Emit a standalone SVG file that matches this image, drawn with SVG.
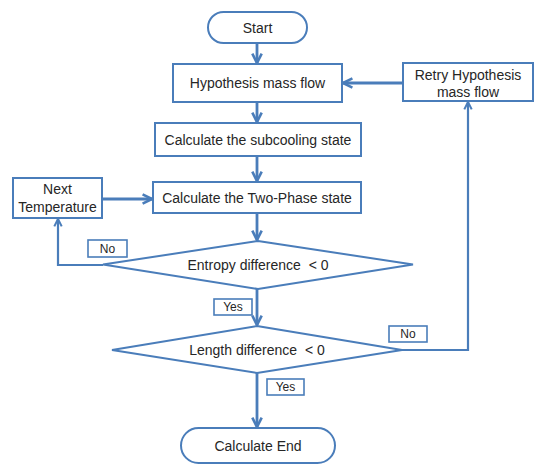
<svg xmlns="http://www.w3.org/2000/svg" width="537" height="464" viewBox="0 0 537 464">
<defs>
<style>
.box{fill:#fff;stroke:#4a7dba;stroke-width:2}
.lbl{fill:#fff;stroke:#4a7dba;stroke-width:1.6}
.t{font-family:"Liberation Sans",Arial,sans-serif;font-size:14px;fill:#262626;text-anchor:middle;dominant-baseline:central}
.s{font-family:"Liberation Sans",Arial,sans-serif;font-size:12px;fill:#262626;text-anchor:middle;dominant-baseline:central}
.c{fill:none;stroke:#4a7dba;stroke-width:2.8}
.c2{fill:none;stroke:#4a7dba;stroke-width:2.2}
</style>
<marker id="ar" viewBox="0 0 10 10" refX="9" refY="5" markerWidth="4.2" markerHeight="4.2" orient="auto" markerUnits="strokeWidth">
<path d="M1,1 L9,5 L1,9" fill="none" stroke="#4a7dba" stroke-width="2.2" stroke-linejoin="miter"/>
</marker>
</defs>
<rect width="537" height="464" fill="#fff"/>
<g id="connectors">
<path class="c" d="M257,43 V63" marker-end="url(#ar)"/>
<path class="c" d="M257,102 V122" marker-end="url(#ar)"/>
<path class="c" d="M257,156 V181" marker-end="url(#ar)"/>
<path class="c" d="M257,213 V240" marker-end="url(#ar)"/>
<path class="c" d="M257,289 V325" marker-end="url(#ar)"/>
<path class="c" d="M257,373 V427" marker-end="url(#ar)"/>
<path class="c2" d="M103,265 H58 V219" marker-end="url(#ar)"/>
<path class="c" d="M102,199 H152" marker-end="url(#ar)"/>
<path class="c2" d="M402,350 H468 V102" marker-end="url(#ar)"/>
<path class="c" d="M403,83 H343" marker-end="url(#ar)"/>
</g>
<g id="start">
<rect class="box" x="208" y="12" width="99" height="31" rx="15.5"/>
<text class="t" x="257.5" y="27.5">Start</text>
</g>
<g id="hypothesis">
<rect class="box" x="173" y="64" width="169" height="38"/>
<text class="t" x="257.5" y="83">Hypothesis mass flow</text>
</g>
<g id="retry">
<rect class="box" x="403" y="63" width="130" height="38"/>
<text class="t" x="468" y="74.5" font-size="13.5">Retry Hypothesis</text>
<text class="t" x="468" y="92" font-size="13.5">mass flow</text>
</g>
<g id="subcooling">
<rect class="box" x="155" y="123" width="206" height="33"/>
<text class="t" x="258" y="139.5">Calculate the subcooling state</text>
</g>
<g id="twophase">
<rect class="box" x="153" y="182" width="208" height="31"/>
<text class="t" x="257" y="197.5">Calculate the Two-Phase state</text>
</g>
<g id="nexttemp">
<rect class="box" x="13" y="178" width="89" height="40"/>
<text class="t" x="57.5" y="189">Next</text>
<text class="t" x="57.5" y="207">Temperature</text>
</g>
<g id="entropy">
<polygon class="box" points="258,241 413,264.5 258,289 103,264.5"/>
<text class="t" x="258" y="265">Entropy difference &#160;&lt; 0</text>
</g>
<g id="no1">
<rect class="lbl" x="88" y="240" width="39" height="17"/>
<text class="s" x="107.5" y="248.5">No</text>
</g>
<g id="yes1">
<rect class="lbl" x="214" y="299" width="38" height="16"/>
<text class="s" x="233" y="307">Yes</text>
</g>
<g id="length">
<polygon class="box" points="257,326 402,350 257,373 112,350"/>
<text class="t" x="257" y="350">Length difference &#160;&lt; 0</text>
</g>
<g id="no2">
<rect class="lbl" x="389" y="326" width="38" height="16"/>
<text class="s" x="408" y="334">No</text>
</g>
<g id="yes2">
<rect class="lbl" x="267" y="379" width="37" height="16"/>
<text class="s" x="285.5" y="387">Yes</text>
</g>
<g id="end">
<rect class="box" x="181" y="428" width="154" height="35" rx="17.5"/>
<text class="t" x="258" y="445.5">Calculate End</text>
</g>
</svg>
